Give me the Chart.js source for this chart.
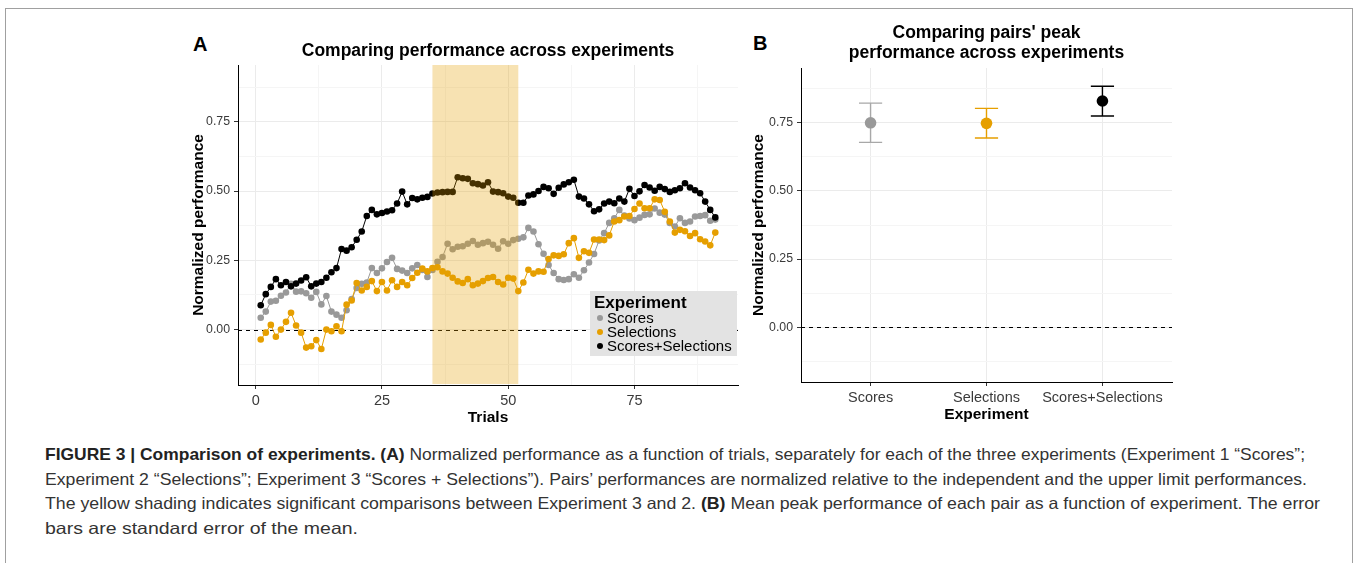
<!DOCTYPE html>
<html>
<head>
<meta charset="utf-8">
<script src="https://cdn.jsdelivr.net/npm/chart.js@4.4.0/dist/chart.umd.min.js"></script>
<style>
  body { margin: 0; background: #fff; width: 1358px; height: 563px; overflow: hidden; position: relative;
         font-family: "Liberation Sans", Arial, sans-serif; }
  #frame { position: absolute; left: 5px; top: 8px; width: 1346px; height: 600px; border: 1px solid #a0a0a0; }
  canvas { position: absolute; }
  #cA { left: 150px; top: 20px; }
  #cB { left: 745px; top: 20px; }
  .panel { position: absolute; font-weight: bold; font-size: 20px; line-height: 20px; color: #000; }
  #caption { position: absolute; left: 45px; top: 442px; font-size: 16.5px; color: #333; }
  .cl { height: 24.7px; line-height: 24.7px; white-space: nowrap; }
  .cl span.t { display: inline-block; transform-origin: 0 50%; }
  #caption b { color: #222; }
</style>
</head>
<body>
<div id="frame"></div>
<div class="panel" style="left:193px;top:34px">A</div>
<div class="panel" style="left:753px;top:33px">B</div>
<canvas id="cA" width="600" height="420"></canvas>
<canvas id="cB" width="440" height="420"></canvas>
<div id="caption">
  <div class="cl" data-w="1260"><span class="t"><b>FIGURE 3 | Comparison of experiments. (A)</b> Normalized performance as a function of trials, separately for each of the three experiments (Experiment 1 “Scores”;</span></div>
  <div class="cl" data-w="1262"><span class="t">Experiment 2 “Selections”; Experiment 3 “Scores + Selections”). Pairs’ performances are normalized relative to the independent and the upper limit performances.</span></div>
  <div class="cl" data-w="1275"><span class="t">The yellow shading indicates significant comparisons between Experiment 3 and 2. <b>(B)</b> Mean peak performance of each pair as a function of experiment. The error</span></div>
  <div class="cl" data-w="313"><span class="t">bars are standard error of the mean.</span></div>
</div>
<script>
// ---- data: panel A ----
const trials = [1, 2, 3, 4, 5, 6, 7, 8, 9, 10, 11, 12, 13, 14, 15, 16, 17, 18, 19, 20,
  21, 22, 23, 24, 25, 26, 27, 28, 29, 30, 31, 32, 33, 34, 35, 36, 37, 38, 39, 40,
  41, 42, 43, 44, 45, 46, 47, 48, 49, 50, 51, 52, 53, 54, 55, 56, 57, 58, 59, 60,
  61, 62, 63, 64, 65, 66, 67, 68, 69, 70, 71, 72, 73, 74, 75, 76, 77, 78, 79, 80,
  81, 82, 83, 84, 85, 86, 87, 88, 89, 90, 91];

const scores = [0.043, 0.065, 0.101, 0.104, 0.122, 0.134, 0.165, 0.137, 0.138, 0.131,
  0.115, 0.136, 0.091, 0.121, 0.065, 0.054, 0.043, 0.070, 0.110, 0.150,
  0.165, 0.170, 0.222, 0.204, 0.221, 0.244, 0.259, 0.219, 0.213, 0.204,
  0.221, 0.233, 0.215, 0.190, 0.215, 0.245, 0.262, 0.310, 0.290, 0.299,
  0.301, 0.310, 0.320, 0.306, 0.312, 0.317, 0.306, 0.292, 0.319, 0.310,
  0.323, 0.328, 0.333, 0.367, 0.354, 0.308, 0.274, 0.233, 0.204, 0.182,
  0.179, 0.182, 0.200, 0.187, 0.214, 0.242, 0.273, 0.322, 0.348, 0.385,
  0.402, 0.432, 0.412, 0.401, 0.395, 0.404, 0.414, 0.416, 0.437, 0.422,
  0.415, 0.385, 0.372, 0.402, 0.385, 0.390, 0.408, 0.410, 0.413, 0.393, 0.397];

const selections = [-0.036, -0.011, 0.017, -0.026, 0.000, 0.028, 0.061, 0.015, -0.011, -0.065,
  -0.060, -0.038, -0.070, 0.000, -0.006, 0.012, -0.006, 0.090, 0.105, 0.168,
  0.141, 0.154, 0.175, 0.139, 0.172, 0.141, 0.178, 0.154, 0.172, 0.160,
  0.186, 0.205, 0.220, 0.210, 0.222, 0.225, 0.210, 0.202, 0.187, 0.174,
  0.168, 0.182, 0.160, 0.166, 0.175, 0.186, 0.190, 0.172, 0.163, 0.187,
  0.184, 0.139, 0.170, 0.216, 0.202, 0.210, 0.209, 0.255, 0.268, 0.266,
  0.272, 0.312, 0.330, 0.259, 0.283, 0.277, 0.325, 0.325, 0.323, 0.340,
  0.390, 0.395, 0.408, 0.410, 0.435, 0.455, 0.438, 0.438, 0.470, 0.468,
  0.425, 0.390, 0.350, 0.360, 0.355, 0.338, 0.348, 0.326, 0.318, 0.304, 0.350];

const scoresSelections = [0.088, 0.128, 0.154, 0.182, 0.160, 0.172, 0.156, 0.166, 0.177, 0.189,
  0.156, 0.166, 0.172, 0.187, 0.207, 0.222, 0.291, 0.285, 0.297, 0.324,
  0.354, 0.410, 0.432, 0.416, 0.421, 0.426, 0.431, 0.455, 0.498, 0.452,
  0.475, 0.470, 0.476, 0.479, 0.491, 0.495, 0.496, 0.497, 0.497, 0.550,
  0.546, 0.544, 0.528, 0.525, 0.520, 0.532, 0.498, 0.496, 0.492, 0.480,
  0.476, 0.458, 0.458, 0.484, 0.488, 0.500, 0.515, 0.510, 0.490, 0.512,
  0.524, 0.532, 0.541, 0.480, 0.473, 0.452, 0.427, 0.434, 0.455, 0.462,
  0.456, 0.473, 0.462, 0.508, 0.482, 0.499, 0.522, 0.513, 0.501, 0.515,
  0.507, 0.497, 0.503, 0.510, 0.528, 0.513, 0.503, 0.492, 0.462, 0.432, 0.405];

const significantTrials = [35, 52];   // shaded span (Experiment 3 vs 2)

// ---- data: panel B ----
const experiments = ['Scores', 'Selections', 'Scores+Selections'];
const peakMean  = [0.750, 0.748, 0.830];
const peakLower = [0.678, 0.694, 0.775];
const peakUpper = [0.822, 0.803, 0.884];

// ---- tick labels ----
const yTicks = [-0.125, 0, 0.125, 0.25, 0.375, 0.5, 0.625, 0.75, 0.875];
const yLabels = [0, 0.25, 0.5, 0.75];
const xTicksA = [0, 12.5, 25, 37.5, 50, 62.5, 75, 87.5];
const xLabelsA = [0, 25, 50, 75];

// ---- styles ----
const colScores = '#999999', colSel = '#E69F00', colBoth = '#000000';
const gridMajor = '#ebebeb', gridMinor = '#f5f5f5', tickText = '#3a3a3a';

Chart.defaults.font.family = '"Liberation Sans", Arial, sans-serif';
Chart.defaults.color = tickText;

function yScale(min, max, width, titlePad) {
  return {
    type: 'linear', min: min, max: max,
    afterBuildTicks: s => { s.ticks = yTicks.map(v => ({ value: v })); },
    afterFit: s => { s.width = width; },
    ticks: { autoSkip: false, padding: 4, font: { size: 12.3 }, color: tickText,
             callback: v => yLabels.includes(v) ? v.toFixed(2) : '' },
    grid: { color: c => yLabels.includes(c.tick.value) ? gridMajor : gridMinor,
            tickColor: c => yLabels.includes(c.tick.value) ? '#333' : 'rgba(0,0,0,0)',
            tickLength: 4 },
    border: { display: true, color: '#000', width: 1 },
    title: { display: true, text: 'Normalized performance', color: '#000',
             font: { size: 15.5, weight: 'bold' }, padding: { top: titlePad, bottom: 0 } }
  };
}

const zeroLine = {
  id: 'zeroLine',
  beforeDatasetsDraw(chart) {
    const { ctx, chartArea: a, scales: { y } } = chart;
    const py = Math.round(y.getPixelForValue(0)) + 0.5;
    ctx.save();
    ctx.strokeStyle = '#000'; ctx.lineWidth = 1; ctx.setLineDash([4, 4]);
    ctx.beginPath(); ctx.moveTo(a.left, py); ctx.lineTo(a.right, py); ctx.stroke();
    ctx.restore();
  }
};

const shade = {
  id: 'shade',
  afterDatasetsDraw(chart) {
    const { ctx, chartArea: a, scales: { x } } = chart;
    const x0 = x.getPixelForValue(significantTrials[0]);
    const x1 = x.getPixelForValue(significantTrials[1]);
    ctx.save();
    ctx.fillStyle = 'rgba(230,159,0,0.3)';
    ctx.fillRect(x0, a.top, x1 - x0, a.bottom - a.top - 1);
    ctx.restore();
  }
};

// legend box drawn inside the plot, like the ggplot one
const boxLegend = {
  id: 'boxLegend',
  afterDraw(chart) {
    const { ctx, chartArea: a } = chart;
    const bx = a.right - 148, by = a.bottom - 94;
    ctx.save();
    ctx.fillStyle = '#e3e3e3';
    ctx.fillRect(bx, by, 147, 65);
    ctx.textBaseline = 'middle'; ctx.textAlign = 'left';
    ctx.fillStyle = '#000';
    ctx.font = 'bold 17px "Liberation Sans", Arial, sans-serif';
    ctx.fillText('Experiment', bx + 4, by + 12);
    ctx.font = '15px "Liberation Sans", Arial, sans-serif';
    ['Scores', 'Selections', 'Scores+Selections'].forEach((lab, i) => {
      const ds = chart.data.datasets.find(d => d.label === lab);
      const cy = by + 27 + i * 14;
      ctx.fillStyle = ds.backgroundColor;
      ctx.beginPath(); ctx.arc(bx + 10, cy, 3, 0, Math.PI * 2); ctx.fill();
      ctx.fillStyle = '#000';
      ctx.fillText(lab, bx + 17, cy + 0.5);
    });
    ctx.restore();
  }
};

function series(label, values, color, order) {
  return {
    label: label, order: order,
    data: trials.map((t, i) => ({ x: t, y: values[i] })),
    borderColor: color, backgroundColor: color, borderWidth: 1,
    pointRadius: 3.3, pointHoverRadius: 3.3, pointBorderWidth: 0, tension: 0
  };
}

new Chart(document.getElementById('cA'), {
  type: 'line',
  data: {
    datasets: [
      series('Scores+Selections', scoresSelections, colBoth, 1),
      series('Selections', selections, colSel, 2),
      series('Scores', scores, colScores, 3)
    ]
  },
  options: {
    responsive: false, animation: false,
    layout: { padding: { right: 12, left: 0, top: 0, bottom: 0 } },
    scales: {
      x: {
        type: 'linear', min: -3.5, max: 95.5,
        afterBuildTicks: s => { s.ticks = xTicksA.map(v => ({ value: v })); },
        afterFit: s => { s.height = 55; },
        ticks: { autoSkip: false, maxRotation: 0, padding: 3, font: { size: 14.5 }, color: tickText,
                 callback: v => xLabelsA.includes(v) ? String(v) : '' },
        grid: { color: c => xLabelsA.includes(c.tick.value) ? gridMajor : gridMinor,
                tickColor: c => xLabelsA.includes(c.tick.value) ? '#333' : 'rgba(0,0,0,0)',
                tickLength: 4 },
        border: { display: true, color: '#000', width: 1 },
        title: { display: true, text: 'Trials', color: '#000',
                 font: { size: 15.5, weight: 'bold' }, padding: { top: 0, bottom: 13 } }
      },
      y: yScale(-0.2, 0.955, 88, 39)
    },
    plugins: {
      legend: { display: false },
      tooltip: { enabled: false },
      title: { display: true, fullSize: false, text: 'Comparing performance across experiments',
               color: '#000', font: { size: 17.5, weight: 'bold', lineHeight: 1.2 },
               padding: { top: 20.5, bottom: 3.5 } }
    }
  },
  plugins: [zeroLine, shade, boxLegend]
});

// error bars for panel B
const errorBars = {
  id: 'errorBars',
  beforeDatasetsDraw(chart) {
    const { ctx, scales: { x, y } } = chart;
    const cols = ['#a8a8a8', colSel, colBoth];
    ctx.save();
    ctx.lineWidth = 1.4;
    experiments.forEach((e, i) => {
      const px = x.getPixelForValue(i);
      const lo = y.getPixelForValue(peakLower[i]), hi = y.getPixelForValue(peakUpper[i]);
      ctx.strokeStyle = cols[i];
      ctx.beginPath();
      ctx.moveTo(px, lo); ctx.lineTo(px, hi);
      ctx.moveTo(px - 11.6, lo); ctx.lineTo(px + 11.6, lo);
      ctx.moveTo(px - 11.6, hi); ctx.lineTo(px + 11.6, hi);
      ctx.stroke();
    });
    ctx.restore();
  }
};

new Chart(document.getElementById('cB'), {
  type: 'scatter',
  data: {
    datasets: [{
      label: 'Peak performance',
      data: experiments.map((e, i) => ({ x: i, y: peakMean[i] })),
      backgroundColor: [colScores, colSel, colBoth],
      pointRadius: 5.8, pointHoverRadius: 5.8, pointBorderWidth: 0
    }]
  },
  options: {
    responsive: false, animation: false,
    layout: { padding: { right: 13, left: 0, top: 0, bottom: 0 } },
    scales: {
      x: {
        type: 'linear', min: -0.6, max: 2.6,
        afterBuildTicks: s => { s.ticks = experiments.map((e, i) => ({ value: i })); },
        afterFit: s => { s.height = 58; },
        ticks: { autoSkip: false, maxRotation: 0, padding: 3, font: { size: 14.5 }, color: tickText,
                 callback: v => experiments[v] },
        grid: { color: gridMajor, tickColor: '#333', tickLength: 4 },
        border: { display: true, color: '#000', width: 1 },
        title: { display: true, text: 'Experiment', color: '#000',
                 font: { size: 15.5, weight: 'bold' }, padding: { top: 0, bottom: 16 } }
      },
      y: yScale(-0.201, 0.951, 56, 4.6)
    },
    plugins: {
      legend: { display: false },
      tooltip: { enabled: false },
      title: { display: true, fullSize: false,
               text: ["Comparing pairs' peak", 'performance across experiments'],
               color: '#000', font: { size: 17.5, weight: 'bold', lineHeight: 1.143 },
               padding: { top: 3.5, bottom: 4.5 } }
    }
  },
  plugins: [zeroLine, errorBars]
});

// squeeze caption lines to the condensed width of the original
function fitCaption() {
  document.querySelectorAll('#caption .cl').forEach(line => {
    const span = line.querySelector('.t');
    span.style.transform = 'none';
    const w = span.getBoundingClientRect().width;
    span.style.transform = 'scaleX(' + (parseFloat(line.dataset.w) / w) + ')';
  });
}
fitCaption();
if (document.fonts && document.fonts.ready) document.fonts.ready.then(fitCaption);
</script>
</body>
</html>
